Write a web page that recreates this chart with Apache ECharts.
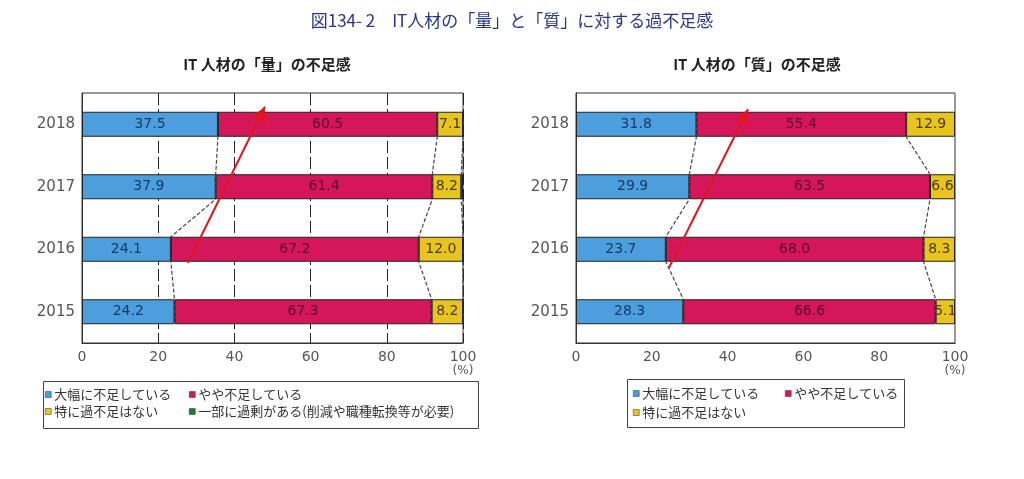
<!DOCTYPE html>
<html><head><meta charset="utf-8">
<script src="https://cdn.jsdelivr.net/npm/echarts@6/dist/echarts.min.js"></script>
<style>html,body{margin:0;padding:0;background:#fff}#c{width:1024px;height:479px}</style>
</head><body><div id="c"></div>
<script>
const years = ['2015', '2016', '2017', '2018'];
const seriesNames = ['大幅に不足している', 'やや不足している', '特に過不足はない', '一部に過剰がある(削減や職種転換等が必要)'];
// 量 (quantity)
const qtyShort = [24.2, 24.1, 37.9, 37.5];
const qtySomewhat = [67.3, 67.2, 61.4, 60.5];
const qtyNone = [8.2, 12.0, 8.2, 7.1];
const qtyExcess = [0, 0, 0.5, 0];
// 質 (quality)
const qualShort = [28.3, 23.7, 29.9, 31.8];
const qualSomewhat = [66.6, 68.0, 63.5, 55.4];
const qualNone = [5.1, 8.3, 6.6, 12.9];
// trend arrows [x%, category-position]
const qtyArrow = [[27.8, 1.28], [48.0, 3.78]];
const qualArrow = [[24.5, 1.2], [45.4, 3.74]];
const xTicks = [0, 20, 40, 60, 80, 100];

const colors = ['#4c9fdc', '#d5175a', '#e8c51e', '#1e7a3a'];
const labelColors = ['#173a68', '#5c0b2c', '#4a3c00', '#fff'];
const FONT = 'DejaVu Sans';
const JP = 'Noto Sans CJK JP';

function normalize(arrs) {
  const sums = years.map((_, i) => arrs.reduce((s, a) => s + a[i], 0));
  return arrs.map(a => a.map((v, i) => v / sums[i] * 100));
}
const qtyN = normalize([qtyShort, qtySomewhat, qtyNone, qtyExcess]);
const qtyRaw = [qtyShort, qtySomewhat, qtyNone, qtyExcess];
const qualN = normalize([qualShort, qualSomewhat, qualNone]);
const qualRaw = [qualShort, qualSomewhat, qualNone];

const HALF = 0.2; // half bar thickness in category units (barWidth 40%)

function cum(normArrs, k) {
  return years.map((_, i) => { let s = 0; for (let j = 0; j <= k; j++) s += normArrs[j][i]; return s; });
}
function connector(c, xi, yi) {
  const pts = [];
  for (let i = years.length - 1; i >= 0; i--) {
    pts.push([c[i], i + 0.5 + HALF]);
    pts.push([c[i], i + 0.5 - HALF]);
  }
  return {type: 'line', xAxisIndex: xi, yAxisIndex: yi, data: pts, symbol: 'none', silent: true, z: 2,
    lineStyle: {color: '#444', width: 1.2, type: [4, 2]}};
}
function arrow(a, xi, yi) {
  return {type: 'line', xAxisIndex: xi, yAxisIndex: yi, data: [], silent: true, z: 5,
    markLine: {silent: true, symbol: ['none', 'arrow'], symbolSize: [12, 16], label: {show: false},
      lineStyle: {color: '#e0161e', width: 2, type: 'solid'},
      data: [[{coord: a[0]}, {coord: a[1]}]]}};
}
function bars(normArrs, rawArrs, xi, yi, stack) {
  return normArrs.map((arr, k) => ({
    name: seriesNames[k], type: 'bar', stack: stack, xAxisIndex: xi, yAxisIndex: yi, barWidth: '40%', z: 3,
    data: arr,
    itemStyle: {color: colors[k], borderColor: '#222', borderWidth: 1},
    label: {show: k < 3, position: 'inside', color: labelColors[k], fontFamily: FONT, fontSize: 14,
      formatter: p => rawArrs[k][p.dataIndex].toFixed(1)}
  }));
}
function xAxis(gi, split) {
  return {type: 'value', gridIndex: gi, min: 0, max: 100, interval: 20,
    axisLine: {show: true, lineStyle: {color: '#333', width: 1}}, axisTick: {show: false},
    axisLabel: {color: '#555', fontFamily: FONT, fontSize: 14, margin: 7,
      formatter: v => v === 100 ? '{a|100}\n{b|(%)}' : String(v),
      rich: {a: {fontFamily: FONT, fontSize: 14, color: '#555'}, b: {fontFamily: FONT, fontSize: 12, color: '#555', lineHeight: 14}}},
    splitLine: {show: split, lineStyle: {color: '#222', width: 1, type: [12, 4]}}};
}
function yCat(gi) {
  return {type: 'category', gridIndex: gi, data: years,
    axisLine: {show: true, lineStyle: {color: '#333'}}, axisTick: {show: false},
    axisLabel: {color: '#555', fontFamily: FONT, fontSize: 15, margin: 7}};
}
function yVal(gi) {
  return {type: 'value', gridIndex: gi, min: 0, max: 4, show: false, splitLine: {show: false}};
}
function legendAt(name, left, top) {
  return {data: [name], left: left, top: top, padding: 0, itemWidth: 6, itemHeight: 6, icon: 'rect',
    itemStyle: {borderColor: '#333', borderWidth: 0.5},
    textStyle: {fontFamily: JP, fontSize: 13, color: '#333', padding: [0, 0, 0, -2]}, selectedMode: false};
}

const option = {
  animation: false,
  backgroundColor: '#fff',
  title: [
    {text: '図134- 2　IT人材の「量」と「質」に対する過不足感', left: 'center', top: 7,
      textStyle: {fontFamily: JP, fontSize: 17, fontWeight: 'normal', color: '#26358c'}},
    {text: 'IT 人材の「量」の不足感', left: 262, textAlign: 'center', top: 52,
      textStyle: {fontFamily: JP, fontSize: 15, fontWeight: 'bold', color: '#222'}},
    {text: 'IT 人材の「質」の不足感', left: 752, textAlign: 'center', top: 52,
      textStyle: {fontFamily: JP, fontSize: 15, fontWeight: 'bold', color: '#222'}}
  ],
  grid: [
    {left: 82, top: 93, width: 381, height: 250, show: true, borderColor: '#333', borderWidth: 1},
    {left: 576, top: 93, width: 379, height: 250, show: true, borderColor: '#333', borderWidth: 1}
  ],
  xAxis: [xAxis(0, true), xAxis(1, false)],
  yAxis: [yCat(0), yVal(0), yCat(1), yVal(1)],
  legend: [
    legendAt(seriesNames[0], 45, 388), legendAt(seriesNames[1], 189, 388),
    legendAt(seriesNames[2], 45, 405), legendAt(seriesNames[3], 189, 405),
    legendAt(seriesNames[0], 633, 387), legendAt(seriesNames[1], 785, 387),
    legendAt(seriesNames[2], 633, 406)
  ],
  graphic: [
    {type: 'rect', shape: {x: 43.5, y: 381.5, width: 435, height: 47}, style: {fill: 'none', stroke: '#444', lineWidth: 1}, silent: true},
    {type: 'rect', shape: {x: 627.5, y: 379.5, width: 277, height: 48}, style: {fill: 'none', stroke: '#444', lineWidth: 1}, silent: true}
  ],
  series: [
    ...bars(qtyN, qtyRaw, 0, 0, 'qty'),
    ...bars(qualN, qualRaw, 1, 2, 'qual'),
    connector(cum(qtyN, 0), 0, 1), connector(cum(qtyN, 1), 0, 1), connector(cum(qtyN, 2), 0, 1),
    connector(cum(qualN, 0), 1, 3), connector(cum(qualN, 1), 1, 3),
    arrow(qtyArrow, 0, 1), arrow(qualArrow, 1, 3)
  ]
};
const chart = echarts.init(document.getElementById('c'), null, {renderer: 'canvas'});
chart.setOption(option);
</script>
</body></html>
